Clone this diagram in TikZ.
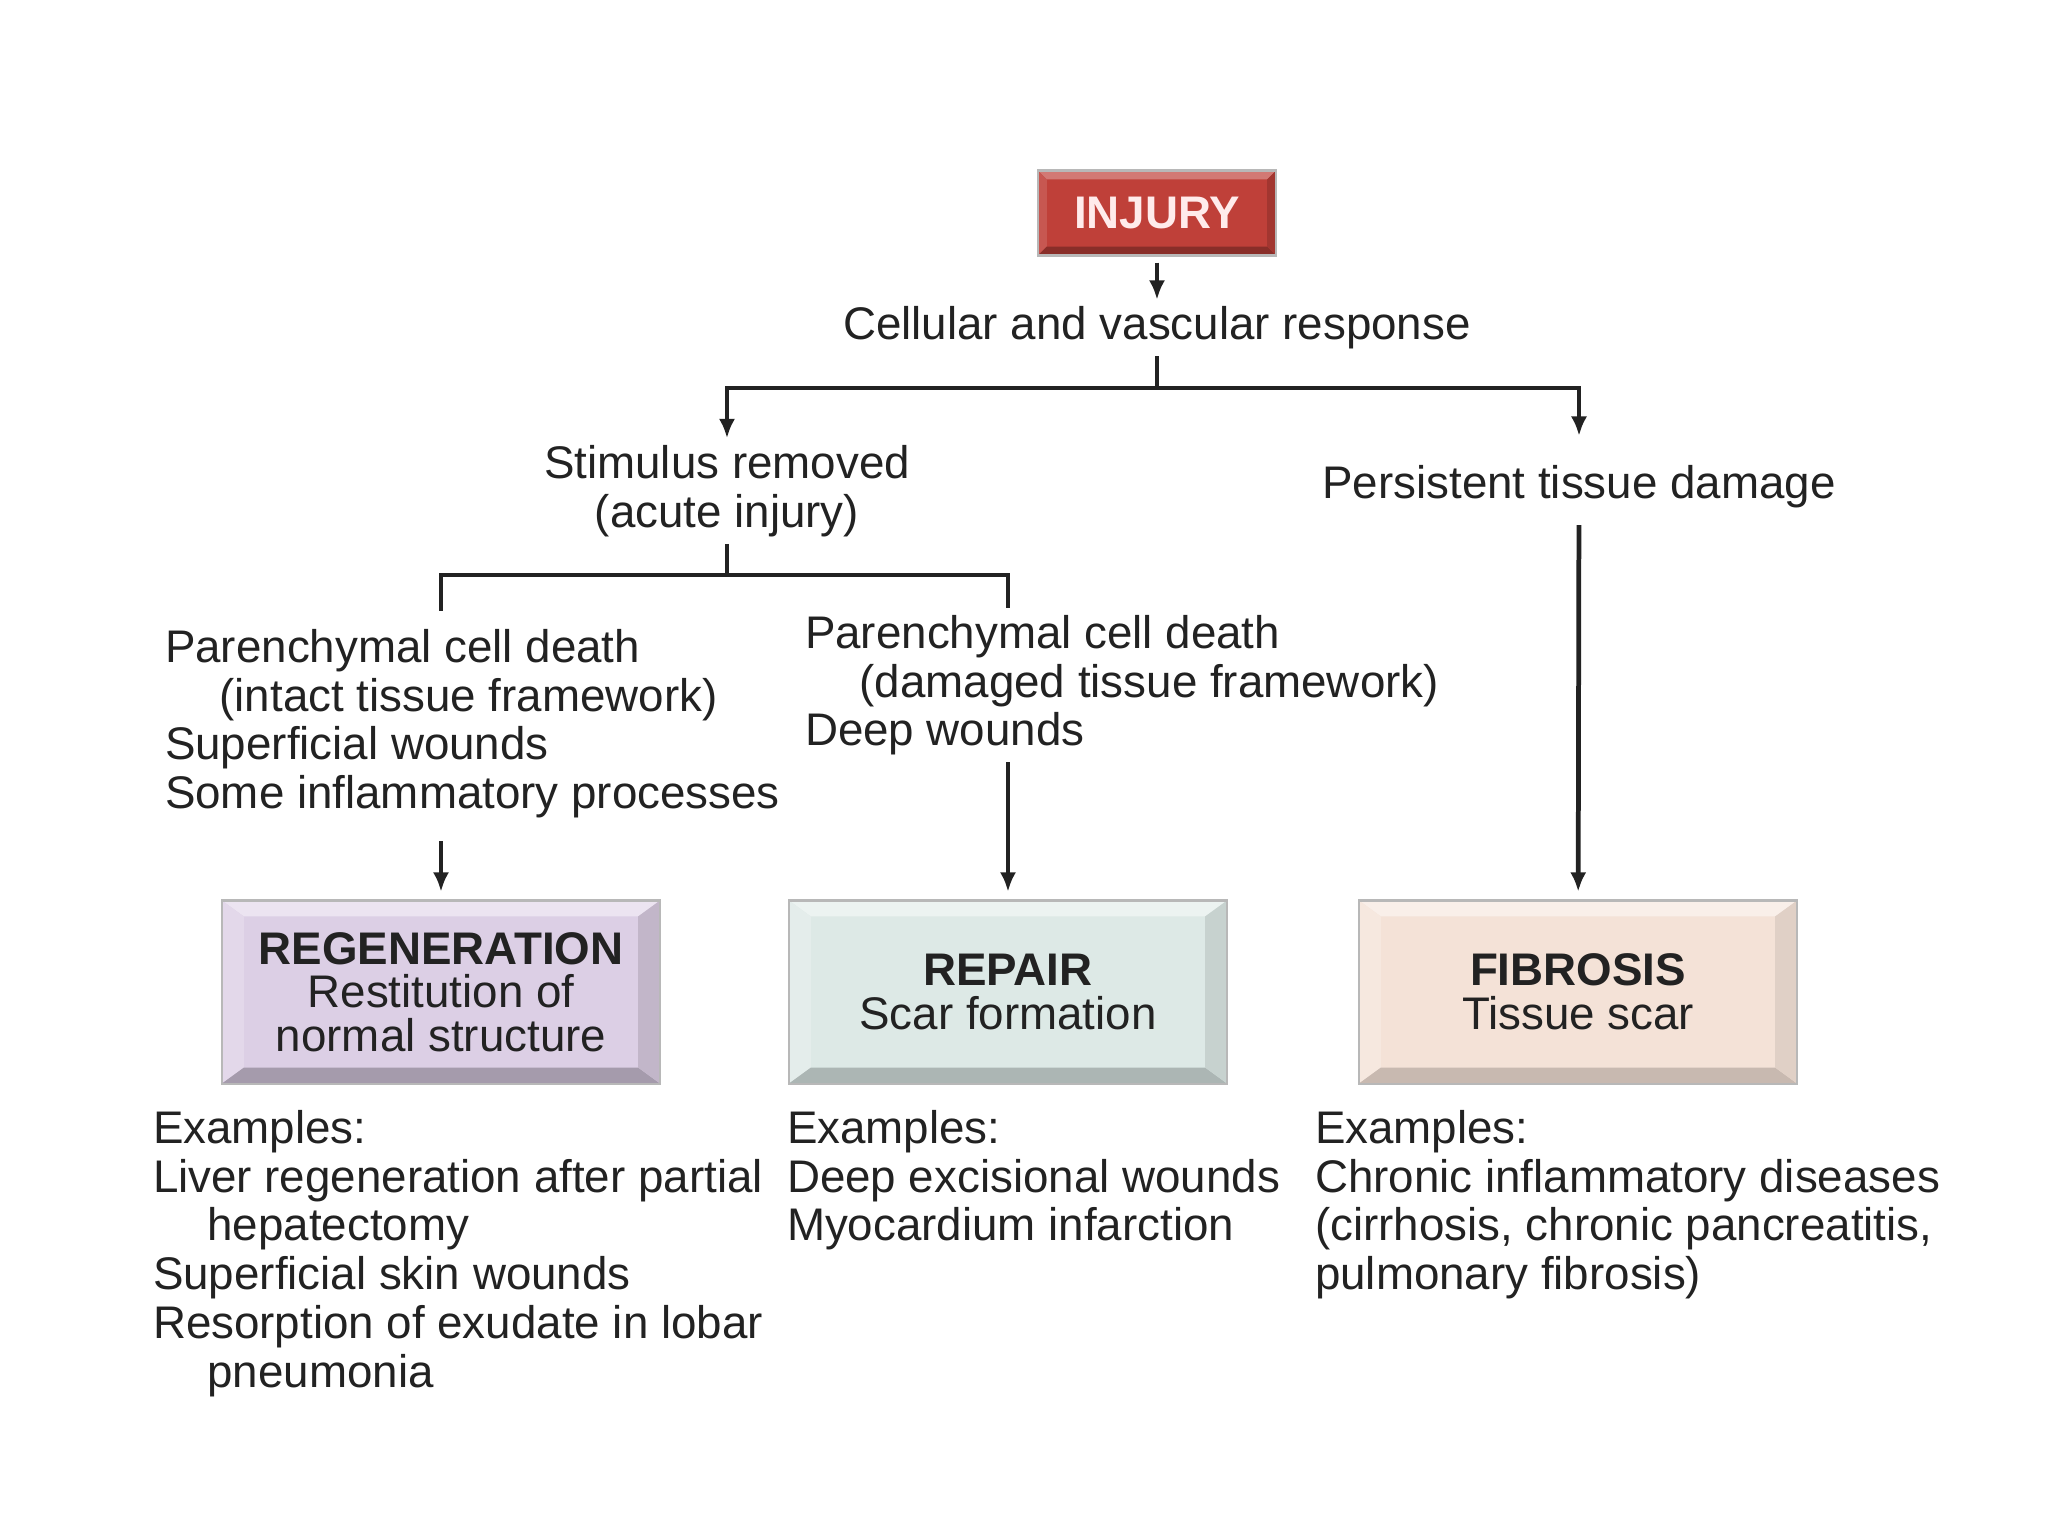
\documentclass[tikz,border=0pt]{standalone}
\usepackage{fontspec}
\setmainfont{Liberation Sans}
\usetikzlibrary{arrows.meta}
\definecolor{ink}{HTML}{222222}
\definecolor{injfill}{HTML}{BF4039}
\definecolor{regfill}{HTML}{DCCFE5}
\definecolor{repfill}{HTML}{DDE9E6}
\definecolor{fibfill}{HTML}{F4E2D7}
\newcommand{\fs}{\fontsize{13}{13.9}\selectfont}
\newcommand{\fsbox}{\fontsize{13}{12.4}\selectfont}
\newcommand{\ind}{\hspace*{15.5pt}}

\begin{document}
\begin{tikzpicture}[x=0.01cm, y=-0.01cm,
  lbl/.style={inner sep=0pt, outer sep=2pt, text=ink, font=\fs},
  conn/.style={line width=1.35pt, ink},
  arr/.style={conn, -{Latex[length=5.5pt, width=4.6pt]}},
  bevel/.style n args={7}{fill=#1, draw=black!28, line width=0.6pt,
    path picture={
      \path (path picture bounding box.north west) coordinate (bnw)
            (path picture bounding box.north east) coordinate (bne)
            (path picture bounding box.south west) coordinate (bsw)
            (path picture bounding box.south east) coordinate (bse);
      \fill[#2] (bnw) -- (bne) -- ([shift={(-#6,#7)}]bne) -- ([shift={(#6,#7)}]bnw) -- cycle;
      \fill[#3] (bnw) -- (bsw) -- ([shift={(#6,-#7)}]bsw) -- ([shift={(#6,#7)}]bnw) -- cycle;
      \fill[#4] (bsw) -- (bse) -- ([shift={(-#6,-#7)}]bse) -- ([shift={(#6,-#7)}]bsw) -- cycle;
      \fill[#5] (bne) -- (bse) -- ([shift={(-#6,-#7)}]bse) -- ([shift={(-#6,#7)}]bne) -- cycle;
    }},
  outcome/.style={minimum width=4.38cm, minimum height=1.83cm, outer sep=2.5pt,
    align=center, text=ink, font=\fsbox}]
  \useasboundingbox (0,0) rectangle (2048,1536);

  % top of the tree
  \node[bevel={injfill}{injfill!70!white}{injfill!88!white}{injfill!72!black}{injfill!85!black}{9}{9},
        minimum width=2.38cm, minimum height=0.85cm, outer sep=2pt,
        text=white!92!red, font=\fs\bfseries] (injury) at (1157,213) {INJURY};
  \node[lbl] (resp) at (1157,328) {Cellular and vascular response};
  \node[lbl, align=center] (stim) at (727,491) {Stimulus removed\\(acute injury)};
  \node[lbl] (persist) at (1579,487) {Persistent tissue damage};

  % conditions
  \node[lbl, align=left, anchor=north west] (cond1) at (158,622)
    {Parenchymal cell death\\\ind(intact tissue framework)\\Superficial wounds\\Some inflammatory processes};
  \node[lbl, align=left, anchor=north west] (cond2) at (798,608)
    {Parenchymal cell death\\\ind(damaged tissue framework)\\Deep wounds};

  % outcomes
  \node[outcome, bevel={regfill}{regfill!55!white}{regfill!80!white}{regfill!75!black}{regfill!88!black}{22}{16}]
    (regen) at (441,992) {\textbf{REGENERATION}\\Restitution of\\normal structure};
  \node[outcome, bevel={repfill}{repfill!55!white}{repfill!80!white}{repfill!78!black}{repfill!90!black}{22}{16}]
    (repair) at (1008,992) {\textbf{REPAIR}\\Scar formation};
  \node[outcome, bevel={fibfill}{fibfill!55!white}{fibfill!80!white}{fibfill!82!black}{fibfill!92!black}{22}{16}]
    (fibro) at (1578,992) {\textbf{FIBROSIS}\\Tissue scar};

  % examples
  \node[lbl, align=left, anchor=north west] (ex1) at (146,1103)
    {Examples:\\Liver regeneration after partial\\\ind hepatectomy\\Superficial skin wounds\\Resorption of exudate in lobar\\\ind pneumonia};
  \node[lbl, align=left, anchor=north west] (ex2) at (780,1103)
    {Examples:\\Deep excisional wounds\\Myocardium infarction};
  \node[lbl, align=left, anchor=north west] (ex3) at (1308,1103)
    {Examples:\\Chronic inflammatory diseases\\(cirrhosis, chronic pancreatitis,\\pulmonary fibrosis)};

  % connectors
  \coordinate (fork1) at (1157,388);
  \coordinate (fork2) at (727,575);
  \draw[arr] (injury) -- (resp);
  \draw[conn] (resp) -- (fork1);
  \draw[arr] (fork1) -| (stim);
  \draw[arr, shorten >=6.5pt] (fork1) -| (persist);
  \draw[conn] (stim) -- (fork2);
  \draw[conn, shorten >=3pt] (fork2) -| (cond1.north -| regen.north);
  \draw[conn] (fork2) -| (cond2.north -| repair.north);
  \draw[arr, shorten <=4.5pt] (cond1.south -| regen.north) -- (regen);
  \draw[arr] (cond2.south -| repair.north) -- (repair);
  \draw[arr, shorten <=2.8pt] (persist) -- (fibro);
\end{tikzpicture}
\end{document}
